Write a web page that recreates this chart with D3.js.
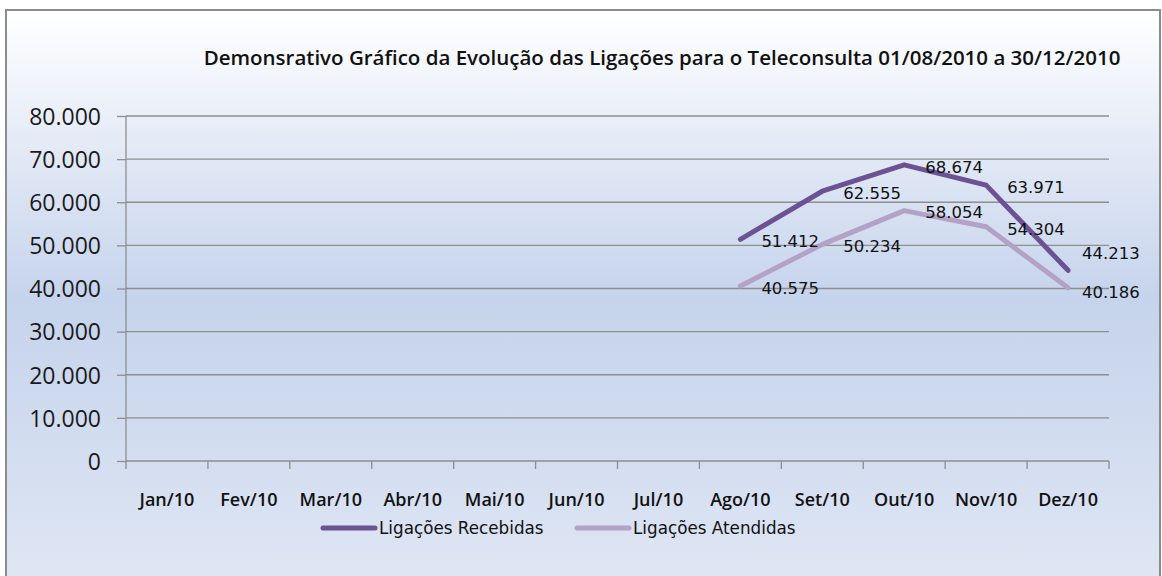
<!DOCTYPE html>
<html><head><meta charset="utf-8">
<script src="https://cdn.jsdelivr.net/npm/d3@7"></script>
<style>
html,body{margin:0;padding:0;background:#fff;}
svg{display:block;}
</style></head>
<body>
<script>
const titleText = "Demonsrativo Gráfico da Evolução das Ligações para o Teleconsulta 01/08/2010 a 30/12/2010";
const months = ["Jan/10","Fev/10","Mar/10","Abr/10","Mai/10","Jun/10","Jul/10","Ago/10","Set/10","Out/10","Nov/10","Dez/10"];
const recebidas = [null,null,null,null,null,null,null,51412,62555,68674,63971,44213];
const atendidas = [null,null,null,null,null,null,null,40575,50234,58054,54304,40186];
const yTicks = [0,10000,20000,30000,40000,50000,60000,70000,80000];
const seriesNames = ["Ligações Recebidas","Ligações Atendidas"];
const seriesColors = ["#6c5293","#b3a2c6"];

const W = 1162, H = 576;
const svg = d3.select("body").append("svg").attr("width", W).attr("height", H);

const defs = svg.append("defs");
const grad = defs.append("linearGradient").attr("id","bg").attr("x1",0).attr("y1",0).attr("x2",0).attr("y2",1);
grad.append("stop").attr("offset","0%").attr("stop-color","#ffffff");
grad.append("stop").attr("offset","50%").attr("stop-color","#c5d3ec");
grad.append("stop").attr("offset","100%").attr("stop-color","#e0e7f4");

svg.append("rect").attr("x",6).attr("y",10).attr("width",1154).attr("height",580)
  .attr("fill","url(#bg)").attr("stroke","#8c8c8c").attr("stroke-width",2);

const x = d3.scaleBand().domain(months).range([126,1109]).padding(0);
const y = d3.scaleLinear().domain([0,80000]).range([461,116]);

const fmt = v => d3.format(",")(v).replace(/,/g,".");

// gridlines
svg.append("g").selectAll("line").data(yTicks.filter(d=>d>0)).join("line")
  .attr("x1",126).attr("x2",1109).attr("y1",d=>y(d)).attr("y2",d=>y(d))
  .attr("stroke","#8e8e8e").attr("stroke-width",1.3);

// y axis
const yAxis = d3.axisLeft(y).tickValues(yTicks).tickSize(9).tickPadding(16).tickFormat(d=>d===0?"0":fmt(d));
const gy = svg.append("g").attr("transform","translate(126,0)").call(yAxis);
gy.select(".domain").attr("stroke","#8e8e8e").attr("stroke-width",1.3).attr("d","M0,116V461");
gy.selectAll(".tick line").attr("stroke","#8e8e8e").attr("stroke-width",1.3);
gy.selectAll(".tick text").attr("font-family","'Open Sans', sans-serif").attr("font-size",23).attr("fill","#1a1a1a").attr("dy","0.36em");

// x axis
const xAxis = d3.axisBottom(x).tickSize(0).tickPadding(32);
const gx = svg.append("g").attr("transform","translate(0,461)").call(xAxis);
gx.select(".domain").attr("stroke","#8e8e8e").attr("stroke-width",1.3).attr("d","M126,0H1109");
gx.selectAll(".tick text").attr("font-family","'Open Sans', sans-serif").attr("font-weight","600").attr("font-size",18).attr("fill","#111");
// band boundary ticks
const bounds = months.map(m=>x(m)).concat([x(months[months.length-1])+x.bandwidth()]);
svg.append("g").selectAll("line").data(bounds).join("line")
  .attr("x1",d=>d).attr("x2",d=>d).attr("y1",461).attr("y2",469)
  .attr("stroke","#8e8e8e").attr("stroke-width",1.3);

// title
svg.append("text").attr("x",662).attr("y",65).attr("text-anchor","middle")
  .attr("font-family","'Open Sans', sans-serif").attr("font-weight","600").attr("font-size",20.5).attr("fill","#111")
  .text(titleText);

// lines
const cx = m => x(m) + x.bandwidth()/2;
const seriesPts = [recebidas, atendidas].map(vals => months.map((m,j)=>({m, v: vals[j]})).filter(d=>d.v!=null));
seriesPts.forEach((pts,i)=>{
  svg.append("path").datum(pts)
    .attr("d", d3.line().x(d=>cx(d.m)).y(d=>y(d.v)))
    .attr("fill","none").attr("stroke",seriesColors[i]).attr("stroke-width",5)
    .attr("stroke-linejoin","round").attr("stroke-linecap","round");
});
// labels, with simple overlap avoidance per category
const labels = [];
seriesPts.forEach((pts,i)=>pts.forEach(d=>labels.push({m:d.m, v:d.v, s:i, ly:y(d.v)+2})));
months.forEach(m=>{
  const grp = labels.filter(l=>l.m===m).sort((a,b)=>a.ly-b.ly);
  for(let k=1;k<grp.length;k++){
    if(grp[k].ly - grp[k-1].ly < 24){ grp[k-1].ly -= 19; grp[k].ly += 3; }
  }
});
const labelW = 59, rightLimit = 1141;
svg.append("g").selectAll("text").data(labels).join("text")
  .attr("x",d=>Math.min(cx(d.m)+21, rightLimit-labelW)).attr("y",d=>d.ly).attr("dy","0.35em")
  .attr("font-family","'DejaVu Sans', sans-serif").attr("font-size",16.5).attr("fill","#111")
  .text(d=>fmt(d.v));

// legend
const lg = svg.append("g");
const legX = [323, 577];
seriesNames.forEach((n,i)=>{
  lg.append("line").attr("x1",legX[i]).attr("x2",legX[i]+52).attr("y1",528).attr("y2",528)
    .attr("stroke",seriesColors[i]).attr("stroke-width",5).attr("stroke-linecap","round");
  lg.append("text").attr("x",legX[i]+56).attr("y",528).attr("dy","0.35em")
    .attr("font-family","'DejaVu Sans', sans-serif").attr("font-size",16.8).attr("fill","#111").text(n);
});
</script>
</body></html>
